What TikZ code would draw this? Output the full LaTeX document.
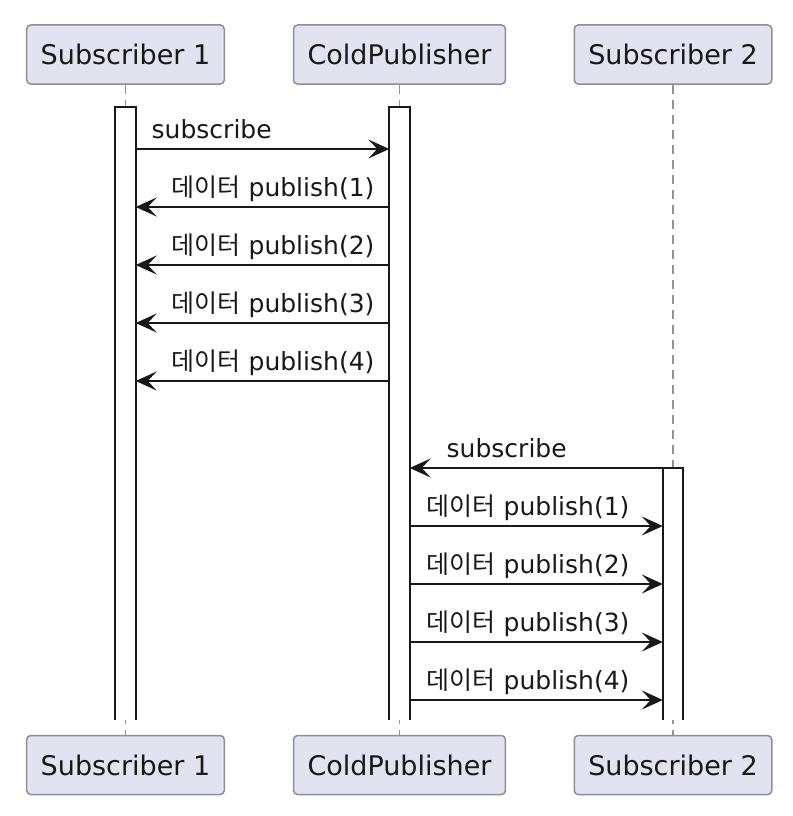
\documentclass[tikz,border=0pt]{standalone}
\usepackage{fontspec}
\setmainfont{DejaVu Sans}
\newfontfamily\kr{Noto Sans CJK KR}
\usepackage{tikz}
\usetikzlibrary{arrows.meta,positioning}
\definecolor{boxfill}{HTML}{E2E2F0}
\definecolor{boxline}{HTML}{8E8E96}
\definecolor{ink}{HTML}{181818}

\begin{document}
\begin{tikzpicture}[x=1pt,y=-1pt,
  actor/.style={draw=boxline,fill=boxfill,rounded corners=4pt,line width=1.5pt,
    minimum height=59pt,inner xsep=14pt,text=ink,font=\fontsize{27}{32}\selectfont},
  bar/.style={fill=white,minimum width=20pt,inner sep=0pt},
  baredge/.style={draw=ink,line width=2.2pt},
  lifeline/.style={draw=gray!85,line width=1.5pt,dash pattern=on 9pt off 6pt},
  msg/.style={draw=ink,line width=2pt,-{Stealth[length=21pt,width=19pt,inset=9pt]}},
  lbl/.style={anchor=base west,inner sep=0pt,text=ink,font=\fontsize{25}{30}\selectfont}]
\useasboundingbox (0,0) rectangle (792,816);
\foreach \n/\x/\t in {1/125.5/Subscriber 1,2/399.5/ColdPublisher,3/673/Subscriber 2} {
  \node[actor] (top\n) at (\x,54.5) {\t};
  \node[actor] (bot\n) at (\x,765) {\t};
  \draw[lifeline] (top\n.south) -- (bot\n.north);
}
\node[bar,minimum height=613pt] (bar1) at (125.5,413.5) {};
\node[bar,minimum height=613pt] (bar2) at (399.5,413.5) {};
\node[bar,minimum height=252pt] (bar3) at (673,594) {};
\foreach \b in {bar1,bar2,bar3}
  \draw[baredge] (\b.south west) -- (\b.north west) -- (\b.north east) -- (\b.south east);

\coordinate (s1) at (0,149);
\draw[msg] (bar1.east |- s1) -- (bar2.west |- s1)
  node[lbl,at start,xshift=15pt,yshift=11pt] (ls1) {subscribe};
\foreach \i/\y in {1/207,2/265,3/323,4/381} {
  \coordinate (p\i) at (0,\y);
  \draw[msg] (bar2.west |- p\i) -- (bar1.east |- p\i)
    node[lbl,at end,xshift=35pt,yshift=11pt] (pl\i) {{\kr 데이터} publish(\i)};
}

\coordinate (s2) at (0,468);
\draw[msg] (bar3.west |- s2) -- (bar2.east |- s2)
  node[lbl,at end,xshift=36pt,yshift=11pt] (ls2) {subscribe};
\foreach \i/\y in {1/526,2/584,3/642,4/700} {
  \coordinate (q\i) at (0,\y);
  \draw[msg] (bar2.east |- q\i) -- (bar3.west |- q\i)
    node[lbl,at start,xshift=16pt,yshift=11pt] (ql\i) {{\kr 데이터} publish(\i)};
}
\end{tikzpicture}
\end{document}
